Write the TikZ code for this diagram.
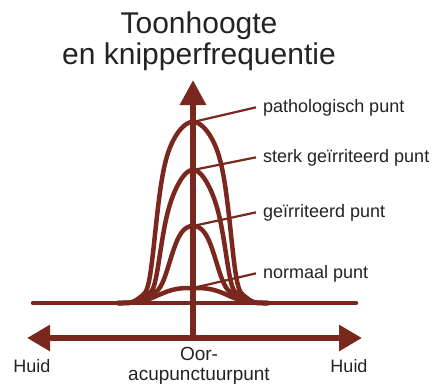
\documentclass[tikz,border=0pt]{standalone}
\usepackage{fontspec}
\setmainfont{Liberation Sans}
\usetikzlibrary{arrows.meta}
\definecolor{brn}{RGB}{122,40,30}
\definecolor{txt}{RGB}{35,35,35}
\begin{document}
\begin{tikzpicture}[x=1pt,y=-1pt,
  declare function={
    sqr(\tt)=\tt*\tt;
    bumpo(\dd,\sa,\sb)=exp(-min(sqr(\dd/\sa)+sqr(sqr(sqr(\dd/\sb))),20));
    bumpq(\dd,\sa,\sb)=exp(-min(sqr(\dd/\sa)+sqr(sqr(\dd/\sb)),20));
    foot(\dd)=exp(-min(sqr(sqr(sqr(\dd/53.7))),20));
  },
  axisline/.style={draw=brn, line width=6pt},
  curve/.style={draw=brn, line width=4.5pt, line join=round, line cap=round},
  leader/.style={draw=brn, line width=2.2pt},
  lab/.style={text=txt, font=\fontsize{18}{20}\selectfont, anchor=base west, inner xsep=7pt, inner ysep=0pt},
  bigtip/.style={-{Triangle[length=25pt,width=25pt]}},
  dbltip/.style={{Triangle[length=23pt,width=25pt]}-{Triangle[length=23pt,width=25pt]}}
]
\useasboundingbox (0,0) rectangle (435,385);

% coordinates
\coordinate (origin) at (193,338);
\coordinate (top) at (193,80);
\coordinate (hl) at (27,338);
\coordinate (hr) at (362,338);
\coordinate (bl) at (33,303);
\coordinate (br) at (356,303);
\coordinate (pP) at (193,122);
\coordinate (pS) at (193,170);
\coordinate (pG) at (193,226);
\coordinate (pN) at (193,288);

% title
\node[text=txt, font=\fontsize{30}{31}\selectfont, align=center, anchor=north, inner sep=0pt] (title) at (199,12) {Toonhoogte\\en knipperfrequentie};

% baseline
\draw[curve] (bl) -- (br);

% curves
\draw[curve] plot[domain=-75:75, samples=151] ({193+\x}, {303-(181*bumpo(\x,58.7,39.8)+14*(1-bumpo(\x,58.7,39.8))*foot(\x))});
\draw[curve] plot[domain=-75:75, samples=151] ({193+\x}, {303-(133*bumpo(\x,41.9,35.5)+12*(1-bumpo(\x,41.9,35.5))*foot(\x))});
\draw[curve] plot[domain=-75:75, samples=151] ({193+\x}, {303-(77*bumpq(\x,41.2,28.5)+10*(1-bumpq(\x,41.2,28.5))*foot(\x))});
\draw[curve] plot[domain=-75:75, samples=151] ({193+\x}, {303-15*exp(-abs(\x/40)*abs(\x/40)*abs(\x/40))});

% axes
\draw[axisline, dbltip] (hl) -- (hr);
\draw[axisline, bigtip] (origin) -- (top);

% labels
\node[lab] (lP) at (256,112) {pathologisch punt};
\node[lab] (lS) at (256,162) {sterk geïrriteerd punt};
\node[lab] (lG) at (256,217) {geïrriteerd punt};
\node[lab] (lN) at (256,278) {normaal punt};

\draw[leader] (pP) -- (lP.west);
\draw[leader] (pS) -- (lS.west);
\draw[leader] (pG) -- (lG.west);
\draw[leader] (pN) -- (lN.west);

% bottom labels
\node[text=txt, font=\fontsize{18}{20}\selectfont, anchor=base, inner sep=0pt] (hL) at (32,372) {Huid};
\node[text=txt, font=\fontsize{18}{20}\selectfont, anchor=base, inner sep=0pt] (hR) at (349,372) {Huid};
\node[text=txt, font=\fontsize{19}{20}\selectfont, align=center, anchor=north, inner sep=0pt] (oor) at (199,347) {Oor-\\acupunctuurpunt};
\end{tikzpicture}
\end{document}
